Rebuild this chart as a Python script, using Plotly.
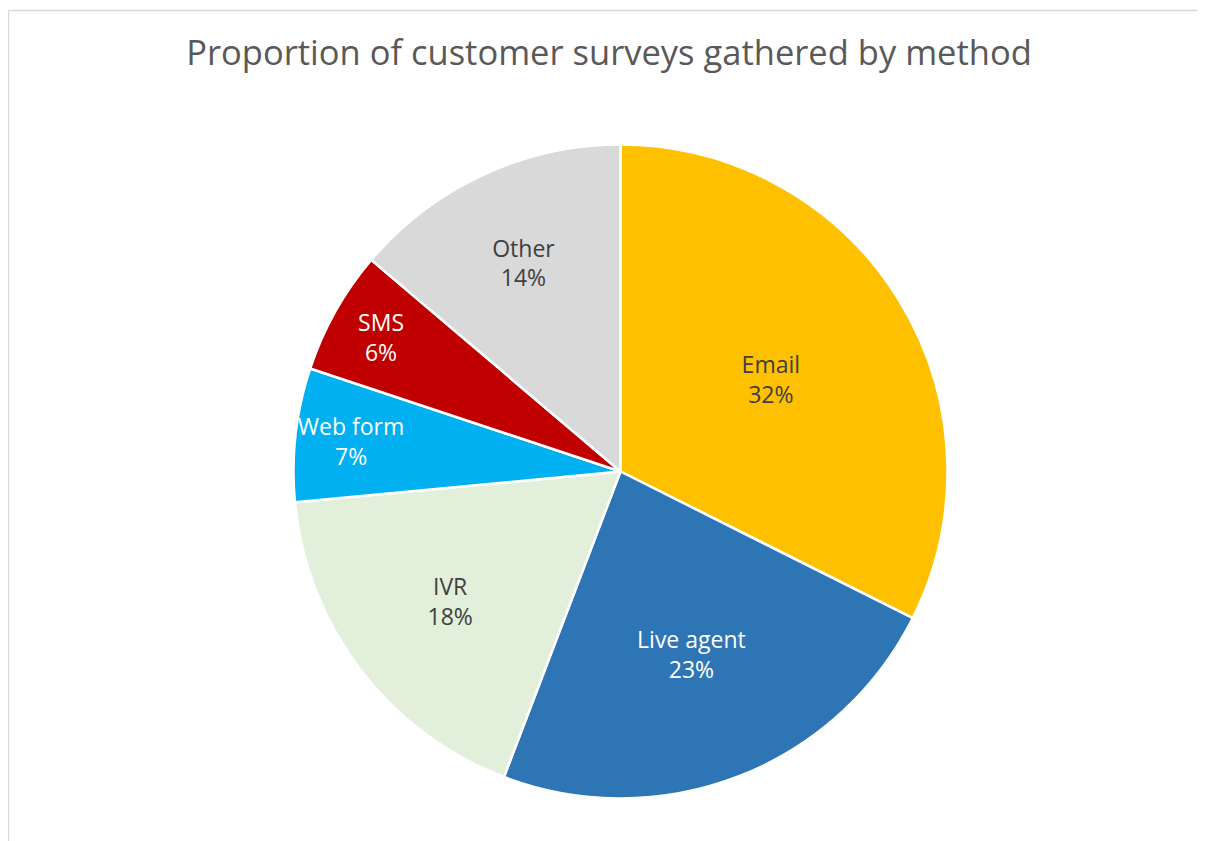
import plotly.graph_objects as go

categories = ["Email", "Live agent", "IVR", "Web form", "SMS", "Other"]
values = [32.4, 23.4, 17.7, 6.6, 6.1, 13.8]
colors = ["#FFC000", "#2E75B6", "#E2EFDA", "#00B0F0", "#C00000", "#D9D9D9"]
text_colors = ["#404040", "#FFFFFF", "#404040", "#FFFFFF", "#FFFFFF", "#404040"]
title_text = "Proportion of customer surveys gathered by method"

# page body has an 8px margin; figure pixel = screen pixel - 8
OFF = 8
W, H = 1205 - OFF, 841 - OFF


def px_x(sx):
    return (sx - OFF) / W


def px_y(sy):
    return 1 - (sy - OFF) / H


fig = go.Figure(go.Pie(
    labels=categories,
    values=values,
    sort=False,
    direction="clockwise",
    rotation=0,
    marker=dict(colors=colors, line=dict(color="#FFFFFF", width=2.5)),
    texttemplate="%{label}<br>%{percent:.0%}",
    textposition="inside",
    insidetextorientation="horizontal",
    insidetextfont=dict(family="Open Sans", size=23, color=text_colors),
    hoverinfo="label+percent",
    domain=dict(x=[px_x(293.5), px_x(947.5)], y=[px_y(798.5), px_y(144.5)]),
    showlegend=False,
))

fig.update_layout(
    width=W, height=H,
    margin=dict(l=0, r=0, t=0, b=0),
    paper_bgcolor="#FFFFFF",
    uniformtext=dict(minsize=23, mode="show"),
    title=dict(
        text=title_text,
        x=px_x(609), xanchor="center",
        y=px_y(53), yanchor="middle",
        font=dict(family="Open Sans", size=34.5, color="#595959"),
    ),
    shapes=[
        dict(type="line", xref="paper", yref="paper",
             x0=px_x(8.5), x1=1.0, y0=px_y(10.5), y1=px_y(10.5),
             line=dict(color="#D9D9D9", width=1.5)),
        dict(type="line", xref="paper", yref="paper",
             x0=px_x(8.5), x1=px_x(8.5), y0=0, y1=px_y(10.5),
             line=dict(color="#D9D9D9", width=1.5)),
    ],
)

fig.write_html("out.html")
